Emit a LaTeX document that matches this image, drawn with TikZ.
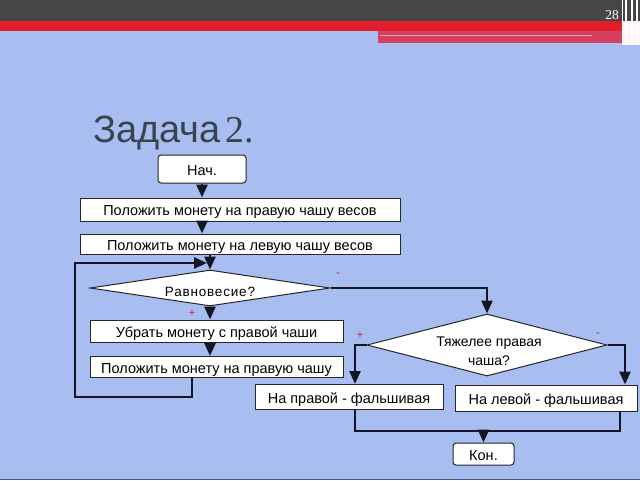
\documentclass[tikz,border=0pt]{standalone}
\usepackage{fontspec}
\setmainfont{Liberation Sans}
\newfontfamily\serifnum{Liberation Serif}
\usetikzlibrary{arrows.meta,shapes.geometric}
\definecolor{bg}{RGB}{168,189,240}
\definecolor{hdr}{RGB}{70,70,70}
\definecolor{redbar}{RGB}{226,30,45}
\definecolor{redlow}{RGB}{214,64,92}
\definecolor{pinkline}{RGB}{236,160,190}
\definecolor{lc}{RGB}{20,22,38}
\definecolor{titlec}{RGB}{58,66,78}
\definecolor{signred}{RGB}{200,30,70}
\definecolor{edge}{RGB}{70,88,122}
\begin{document}
\begin{tikzpicture}[x=1pt,y=-1pt,
 box/.style={draw=black!85,line width=1pt,fill=white,inner sep=0pt,text height=13pt,text depth=1pt,font=\fontsize{14.5}{16}\selectfont},
 rbox/.style={box,rounded corners=3pt},
 dia/.style={diamond,draw=black!85,line width=1pt,fill=white,inner sep=0pt},
 diatext/.style={inner sep=0pt,align=center,font=\fontsize{14}{19}\selectfont},
 conn/.style={line width=2.6pt,draw=lc},
 arr/.style={conn,-{Triangle[width=11pt,length=13pt]}},
 sign/.style={text=signred,font=\fontsize{11}{12}\selectfont,inner sep=0pt}]
\useasboundingbox (0,0) rectangle (640,480);
% background
\fill[bg] (0,0) rectangle (640,480);
\draw[edge,line width=1.5pt] (0,479.25) -- (640,479.25);
% header
\fill[hdr] (0,0) rectangle (640,21);
\fill[redbar] (0,21) rectangle (622,31);
\fill[redlow] (378,31) rectangle (622,43);
\draw[pinkline,line width=1.2pt] (380,35.5) -- (592,35.5);
\fill[white!85!pink] (622,21) rectangle (640,45);
\foreach \xx in {622.5,626,632,637} \draw[white,line width=1.3pt] (\xx,0) -- (\xx,45);
\node[text=white,anchor=base east,inner sep=0pt,font=\serifnum\fontsize{13.5}{14}\selectfont] (pg) at (619,19) {28};
% title
\node[anchor=base west,inner sep=0pt,text=titlec,font=\fontsize{38}{40}\selectfont] (title) at (93,142) {Задача\hspace{5pt}{\serifnum 2.}};
% nodes
\node[rbox,minimum width=88,minimum height=28] (nach) at (202,169) {Нач.};
\node[box,minimum width=320,minimum height=23] (b1) at (240,209.5) {Положить монету на правую чашу весов};
\node[box,minimum width=320,minimum height=20] (b2) at (240,244) {Положить монету на левую чашу весов};
\node[dia,minimum width=240,minimum height=36] (d1) at (210,288) {};
\node[diatext,anchor=base,font=\fontsize{13.5}{15}\selectfont] (d1t) at (210,296) {\addfontfeature{LetterSpace=6}Равновесие?};
\node[box,minimum width=253,minimum height=22] (b3) at (216.5,331) {Убрать монету с правой чаши};
\node[box,minimum width=253,minimum height=21] (b4) at (216.5,367) {Положить монету на правую чашу};
\node[dia,minimum width=240,minimum height=62] (d2) at (487,345) {};
\node[diatext] (d2t) at (489,351) {Тяжелее правая\\чаша?};
\node[box,minimum width=188,minimum height=25] (b5) at (349,397) {На правой - фальшивая};
\node[box,minimum width=182,minimum height=26] (b6) at (546,398) {На левой - фальшивая};
\node[rbox,minimum width=61,minimum height=22] (kon) at (483.5,454) {Кон.};
% helper coordinates
\coordinate (lpx) at (192,397);
\coordinate (lpl) at (75,397);
\coordinate (lpt) at (75,263);
\coordinate (lpe) at (207,263);
\coordinate (lx) at (355,0);
\coordinate (rx) at (625,0);
\coordinate (rx2) at (620,0);
\coordinate (jy) at (0,431);
% connectors
\draw[arr] (nach.south) -- (nach.south |- b1.north);
\draw[arr] (b1.south -| nach.south) -- (b2.north -| nach.south);
\draw[arr] (b2.south -| d1.north) -- (d1.north);
\draw[arr] (d1.south) -- (b3.north -| d1.south);
\draw[arr] (b3.south -| d1.south) -- (b4.north -| d1.south);
\draw[arr] (b4.south -| lpx) -- (lpx) -- (lpl) -- (lpt) -- (lpe);
\draw[arr] (d1.east) -| (d2.north);
\draw[arr] (d2.west) -| (b5.north -| lx);
\draw[arr] (d2.east) -| (b6.north -| rx);
\draw[conn] (b5.south -| lx) |- (jy -| rx2) -- (b6.south -| rx2);
\draw[arr] (jy -| kon.north) -- (kon.north);
% signs
\node[sign] (s1) at (338,275) {-};
\node[sign] (s2) at (192,313) {+};
\node[sign] (s3) at (360,335) {+};
\node[sign] (s4) at (598,335) {-};
\end{tikzpicture}
\end{document}
